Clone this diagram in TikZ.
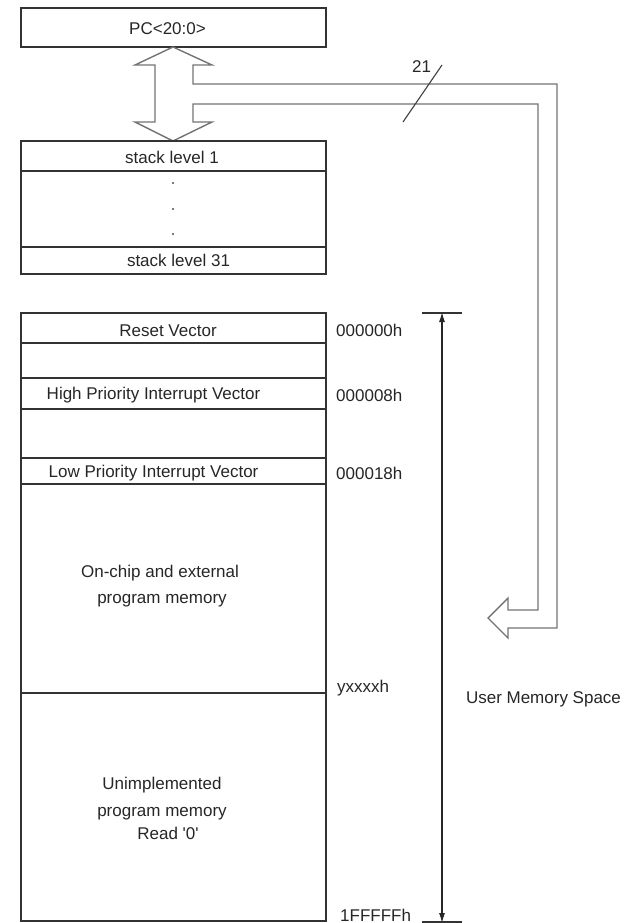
\documentclass[tikz,border=0pt]{standalone}
\usepackage{fontspec}
\setmainfont{Liberation Sans}
\usetikzlibrary{arrows.meta}
\begin{document}
\begin{tikzpicture}[x=1pt,y=-1pt,
  box/.style={draw=black!80, line width=1.4pt},
  bus/.style={draw=black!55, line width=1.4pt, line join=miter},
  lbl/.style={font=\fontsize{17}{25}\selectfont, inner sep=0pt, text=black!85, anchor=base},
  addr/.style={lbl, anchor=base west},
  dotmark/.style={fill=black!70},
  rangearrow/.style={draw=black!85, line width=1.1pt, {Latex[length=10pt,width=6pt]}-{Latex[length=10pt,width=6pt]}},
]
\useasboundingbox (0,0) rectangle (628,923);

% PC register
\draw[box] (21,8) rectangle (326,47);
\node[lbl] (pc) at (167.5,35) {PC<20:0>};

% bus: double arrow + line to program memory
\draw[bus] (173,47) -- (212,65) -- (193,65) -- (193,84) -- (557,84) -- (557,628)
  -- (508,628) -- (508,638) -- (488,618) -- (508,598) -- (508,610) -- (538,610)
  -- (538,104) -- (193,104) -- (193,122) -- (212,122) -- (173,141) -- (135,122)
  -- (155,122) -- (155,65) -- (135,65) -- cycle;
\coordinate (sl1) at (403,122);
\coordinate (sl2) at (442,65);
\draw[black!75, line width=1.1pt] (sl1) -- (sl2);
\node[lbl] (w21) at (421.5,73) {21};

% stack
\draw[box] (21,141) rectangle (326,274);
\draw[box] (21,171) -- (326,171);
\draw[box] (21,247) -- (326,247);
\node[lbl] (s1) at (172,163) {stack level 1};
\fill[dotmark] (173,183) circle (1.1pt);
\fill[dotmark] (173,209) circle (1.1pt);
\fill[dotmark] (173,234) circle (1.1pt);
\node[lbl] (s31) at (178.5,266) {stack level 31};

% program memory
\draw[box] (21,313) rectangle (326,921);
\foreach \yy in {343,378,409,458,484,693} \draw[box] (21,\yy) -- (326,\yy);
\node[lbl] (reset) at (168,336) {Reset Vector};
\node[lbl] (hi) at (153.5,399) {High Priority Interrupt Vector};
\node[lbl] (lo) at (153.5,477) {Low Priority Interrupt Vector};
\node[lbl] (oc1) at (160,577) {On-chip and external};
\node[lbl] (oc2) at (162,603) {program memory};
\node[lbl] (un1) at (162,789) {Unimplemented};
\node[lbl] (un2) at (162,816) {program memory};
\node[lbl] (un3) at (168,839) {Read \textquotesingle0\textquotesingle};

% addresses
\node[addr] (a0) at (336,336) {000000h};
\node[addr] (a8) at (336,401) {000008h};
\node[addr] (a18) at (336,479) {000018h};
\node[addr] (ay) at (337,692) {yxxxxh};
\node[addr] (aend) at (340,921) {1FFFFFh};

% user memory space range
\coordinate (rtop) at (442,313);
\coordinate (rbot) at (442,922);
\draw[box] (422,313) -- (462,313);
\draw[box] (422,922) -- (462,922);
\draw[rangearrow] ([yshift=1pt]rtop) -- ([yshift=-1pt]rbot);
\node[lbl] (ums) at (543.5,703) {User Memory Space};
\end{tikzpicture}
\end{document}
